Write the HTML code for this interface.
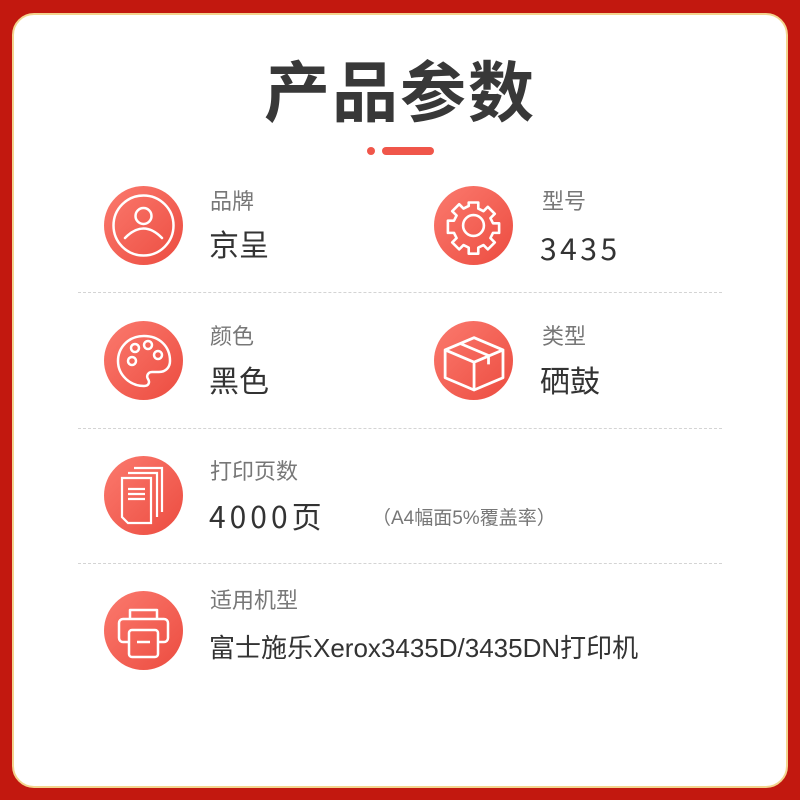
<!DOCTYPE html>
<html><head><meta charset="utf-8"><style>
*{margin:0;padding:0;box-sizing:border-box}
body{width:800px;height:800px;background:#c2180f;position:relative;overflow:hidden;font-family:"Liberation Sans","Noto Sans CJK SC",sans-serif}
.panel{position:absolute;left:12px;top:13px;width:776px;height:775px;background:#fff;border-radius:22px;border:2px solid #f3d48e}
.t{position:absolute;left:0;width:800px;top:53px;text-align:center;font-size:66px;font-weight:bold;color:#383838;letter-spacing:2px;line-height:80px}
.dot{position:absolute;left:367px;top:147px;width:8px;height:8px;border-radius:4px;background:#f0564a}
.bar{position:absolute;left:382px;top:147px;width:52px;height:8px;border-radius:4px;background:#f0564a}
.c{position:absolute;width:79px;height:79px;border-radius:50%;background:linear-gradient(135deg,#fb7a6e,#ec4c40)}
.c svg{position:absolute;left:0;top:0}
.l{position:absolute;font-size:22px;color:#777;line-height:26px}
.v{position:absolute;font-size:30px;color:#333;line-height:34px}
.n{font-family:"Noto Sans CJK SC",sans-serif;line-height:34px;letter-spacing:3.5px}
.s{position:absolute;left:78px;width:644px;border-top:1px dashed #d4d4d4}
</style></head><body>
<div class="panel"></div>
<div class="t">产品参数</div>
<div class="dot"></div><div class="bar"></div>

<div class="c" style="left:104px;top:186px"><svg width="79" height="79" fill="none" stroke="#fff" stroke-width="2.5"><circle cx="39.5" cy="39.5" r="30"/><circle cx="39.5" cy="30" r="8"/><path d="M21 52 Q39.5 33 58 52" stroke-linecap="round"/></svg></div>
<div class="l" style="left:210px;top:189px">品牌</div>
<div class="v" style="left:209px;top:230px">京呈</div>

<div class="c" style="left:434px;top:186px"><svg width="79" height="79" viewBox="-6 -6 91 91" fill="none" stroke="#fff" stroke-width="3"><circle cx="39.5" cy="39.5" r="12"/><path d="M34 13h11v7l6 3 5-5 8 8-5 5 3 6h7v11h-7l-3 6 5 5-8 8-5-5-6 3v7H34v-7l-6-3-5 5-8-8 5-5-3-6h-7V34h7l3-6-5-5 8-8 5 5 6-3z" stroke-linejoin="round"/></svg></div>
<div class="l" style="left:542px;top:189px">型号</div>
<div class="v n" style="left:540px;top:230px">3435</div>

<div class="s" style="top:292px"></div>

<div class="c" style="left:104px;top:321px"><svg width="79" height="79" fill="none" stroke="#fff" stroke-width="2.5"><path d="M40 15C24 15 14 27 14 40c0 14 12 25 26 25 5 0 6-4 4-7-2-3 0-7 4-7h7c7 0 11-5 11-11C66 25 55 15 40 15z"/><circle cx="28" cy="40" r="4"/><circle cx="31" cy="27" r="4"/><circle cx="44" cy="24" r="4"/><circle cx="54" cy="34" r="4"/></svg></div>
<div class="l" style="left:210px;top:324px">颜色</div>
<div class="v" style="left:209px;top:366px">黑色</div>

<div class="c" style="left:434px;top:321px"><svg width="79" height="79" viewBox="4 4 71 71" fill="none" stroke="#fff" stroke-width="2.5" stroke-linejoin="round"><path d="M14 30L40 19 66 30 40 41zM14 30v25l26 11 26-11V30M40 41v25M27 24l26 11v8"/></svg></div>
<div class="l" style="left:542px;top:324px">类型</div>
<div class="v" style="left:540px;top:366px">硒鼓</div>

<div class="s" style="top:428px"></div>

<div class="c" style="left:104px;top:456px"><svg width="79" height="79" fill="none" stroke="#fff" stroke-width="2.2"><path d="M30 12h28v44M24 17h29v44"/><path d="M18 22h29v45H24l-6-6z"/><path d="M24 33h17M24 38h17M24 43h17"/></svg></div>
<div class="l" style="left:210px;top:459px">打印页数</div>
<div class="v n" style="left:209px;top:498px;letter-spacing:4px">4000页</div>
<div class="l" style="left:372px;top:506px;font-size:19px;color:#777">（A4幅面5%覆盖率）</div>

<div class="s" style="top:563px"></div>

<div class="c" style="left:104px;top:591px"><svg width="79" height="79" fill="none" stroke="#fff" stroke-width="2.5" stroke-linejoin="round"><path d="M26 28V19h27v9"/><path d="M24 51h-5a4 4 0 0 1-4-4V32a4 4 0 0 1 4-4h41a4 4 0 0 1 4 4v15a4 4 0 0 1-4 4h-5"/><rect x="25" y="39" width="29" height="27" rx="3"/><path d="M33 51h13"/></svg></div>
<div class="l" style="left:210px;top:588px">适用机型</div>
<div class="v" style="left:209px;top:631px;font-size:26px">富士施乐Xerox3435D/3435DN打印机</div>
</body></html>
